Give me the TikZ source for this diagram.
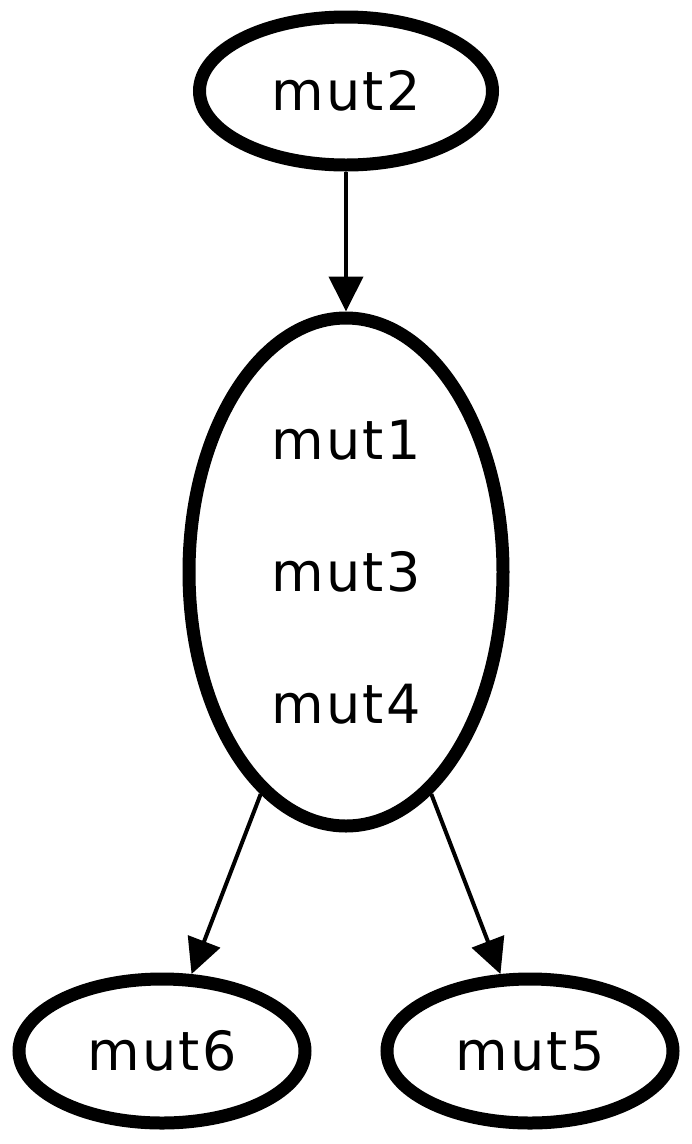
\documentclass[tikz,border=0pt]{standalone}
\usepackage{fontspec}
\setmainfont{DejaVu Sans}[LetterSpace=4]
\usetikzlibrary{arrows.meta,shapes.geometric}
\begin{document}
\begin{tikzpicture}[x=1pt,y=-1pt,
  mutnode/.style={ellipse, draw, line width=13pt, inner sep=0pt, font=\fontsize{54}{66}\selectfont},
  labeltext/.style={inner sep=0pt, align=center, font=\fontsize{54}{66}\selectfont},
  conn/.style={line width=4pt, -{Triangle[length=35pt,width=34pt]}}]
\useasboundingbox (0,0) rectangle (692,1144);
\node[mutnode, minimum width=293pt, minimum height=148pt] (m2) at (346,91) {mut2};
\node[mutnode, minimum width=314pt, minimum height=508pt] (mid) at (346,572) {};
\node[labeltext] (midtext) at (mid.center) {mut1\\[66pt]mut3\\[66pt]mut4};
\node[mutnode, minimum width=286pt, minimum height=144pt] (m6) at (162,1051) {mut6};
\node[mutnode, minimum width=286pt, minimum height=144pt] (m5) at (530,1051) {mut5};
\draw[conn] (m2) -- (mid);
\draw[conn] (mid) -- (m6);
\draw[conn] (mid) -- (m5);
\end{tikzpicture}
\end{document}
